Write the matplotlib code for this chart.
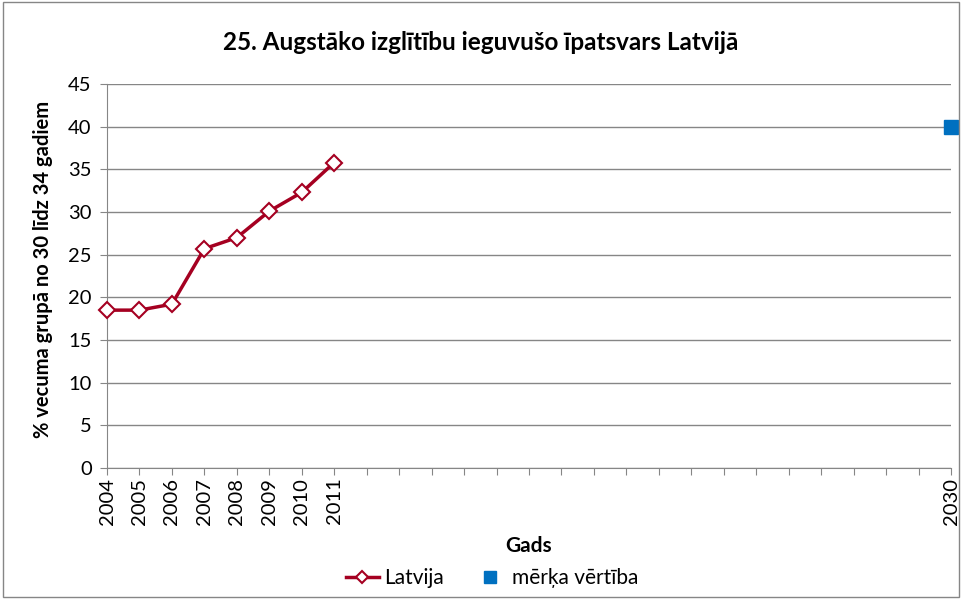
import matplotlib
matplotlib.use('Agg')
import matplotlib.pyplot as plt
from matplotlib.patches import Rectangle

# Data
years = [str(y) for y in range(2004, 2031)]
latvija_years = ['2004', '2005', '2006', '2007', '2008', '2009', '2010', '2011']
latvija_values = [18.5, 18.5, 19.2, 25.7, 27.0, 30.1, 32.3, 35.8]
target_year = '2030'
target_value = 40
shown_labels = latvija_years + [target_year]

plt.rcParams['font.family'] = ['Lato', 'DejaVu Sans']

fig = plt.figure(figsize=(9.62, 5.99), dpi=100)
ax = fig.add_axes([107 / 962, 1 - 468 / 599, (951 - 107) / 962, (468 - 84) / 599])

xpos = {y: i for i, y in enumerate(years)}

ax.plot([xpos[y] for y in latvija_years], latvija_values, color='#A50021', lw=2.5,
        marker='D', markersize=8, markerfacecolor='white', markeredgecolor='#A50021',
        markeredgewidth=1.5, label='Latvija', zorder=3, clip_on=False)
ax.plot([xpos[target_year]], [target_value], ls='none', marker='s', markersize=10,
        color='#0070C0', label='mērķa vērtība', zorder=3, clip_on=False)

ax.set_xlim(0, len(years) - 1)
ax.set_ylim(0, 45)
ax.set_yticks(range(0, 46, 5))
ax.set_xticks(range(len(years)))
ax.set_xticklabels([y if y in shown_labels else '' for y in years], rotation=90)
ax.tick_params(axis='both', labelsize=14.5, color='#868686', length=5)
ax.tick_params(axis='x', pad=2)
ax.tick_params(axis='y', pad=6)
ax.grid(axis='y', color='#868686', lw=1)
ax.set_axisbelow(True)
for side in ['top', 'right']:
    ax.spines[side].set_visible(False)
for side in ['left', 'bottom']:
    ax.spines[side].set_color('#868686')

ax.set_ylabel('% vecuma grupā no 30 līdz 34 gadiem', fontsize=14.5, fontweight='bold',
              va='center')
ax.yaxis.set_label_coords(-0.076, 0.516)
ax.set_xlabel('Gads', fontsize=15, fontweight='bold', labelpad=8)
fig.suptitle('25. Augstāko izglītību ieguvušo īpatsvars Latvijā', fontsize=17.5,
             fontweight='bold', y=1 - 42 / 599, va='center')

fig.legend(loc='center', bbox_to_anchor=(492 / 962, 1 - 578 / 599), ncol=2, frameon=False,
           fontsize=15, handlelength=1.6, handletextpad=0.25, columnspacing=1.4,
           markerscale=0.8)

fig.patches.append(Rectangle((0.003, 0.003), 0.994, 0.994, transform=fig.transFigure,
                             fill=False, edgecolor='#868686', lw=1))

fig.savefig('out.png', dpi=100)
